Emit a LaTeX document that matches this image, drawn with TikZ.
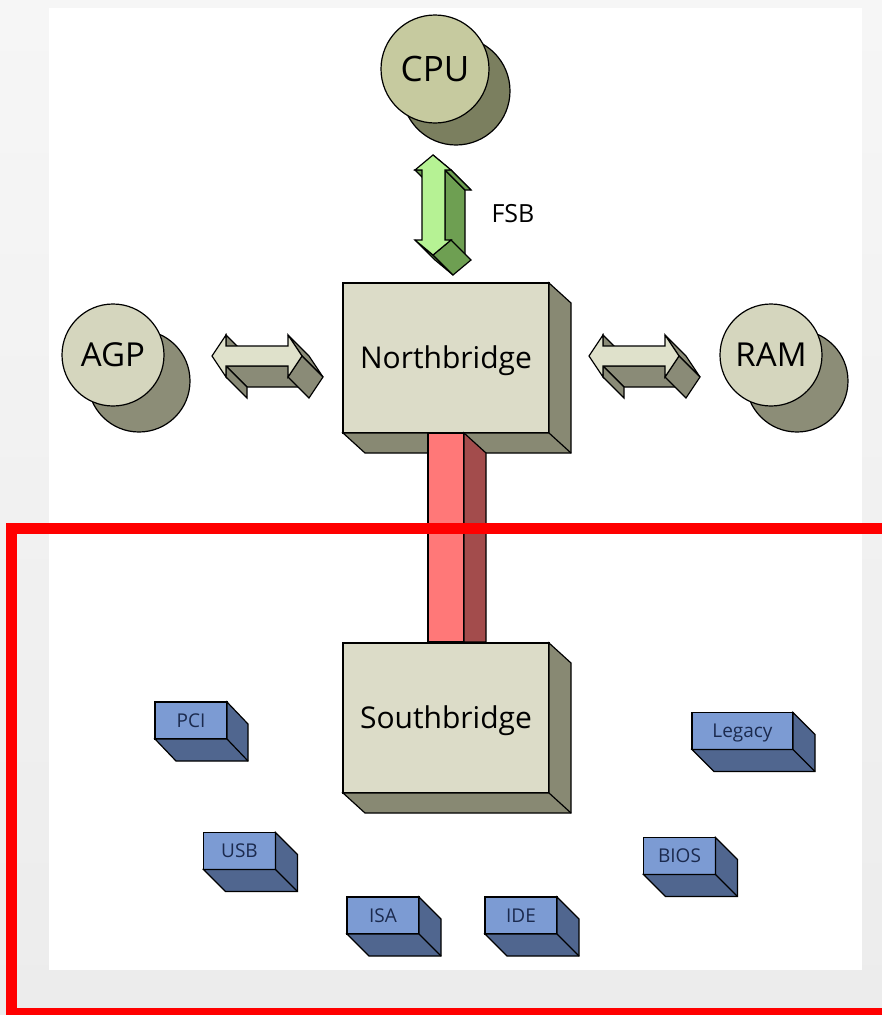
\documentclass[tikz,border=0pt]{standalone}
\usepackage{fontspec}
\setmainfont{Open Sans}
\usetikzlibrary{calc}
\definecolor{bgtop}{HTML}{F6F6F6}
\definecolor{bgbot}{HTML}{ECECEC}
\definecolor{cpuf}{HTML}{C6CA9F}
\definecolor{cpub}{HTML}{7B7F5F}
\definecolor{circf}{HTML}{D5D6BE}
\definecolor{circb}{HTML}{8C8D77}
\definecolor{boxf}{HTML}{DCDCC8}
\definecolor{boxs}{HTML}{888973}
\definecolor{bluef}{HTML}{7C9BD3}
\definecolor{blues}{HTML}{50668F}
\definecolor{bluet}{HTML}{1B2A4E}
\definecolor{busf}{HTML}{FF7878}
\definecolor{buss}{HTML}{A34C4C}
\definecolor{fsbf}{HTML}{B6F294}
\definecolor{fsbs}{HTML}{6E9F52}
\definecolor{hf}{HTML}{DFE1CB}
\definecolor{hs}{HTML}{8A8B77}
\tikzset{
  edge/.style={draw=black, line width=1.2pt},
  bigbox/.style={edge, fill=boxf, rectangle, minimum width=206pt, minimum height=150pt,
    inner sep=0pt, outer sep=0pt, font=\fontsize{30}{36}\selectfont, text height=21.4pt, text depth=0pt},
  smallbox/.style={edge, fill=bluef, rectangle, minimum width=72pt, minimum height=37pt,
    inner sep=0pt, outer sep=0pt, text=bluet, font=\fontsize{19}{23}\selectfont, text height=13.6pt, text depth=0pt},
  disc/.style={edge, circle, minimum size=#1, inner sep=0pt, outer sep=0pt},
  bustyle/.style={edge, fill=busf, rectangle, minimum width=36pt, minimum height=209pt, inner sep=0pt, outer sep=0pt},
}
\newcommand{\boxsides}[3]{%
  \filldraw[edge, fill=#2] (#1.north east) -- ([shift={#3}]#1.north east) -- ([shift={#3}]#1.south east)
    -- ([shift={#3}]#1.south west) -- (#1.south west) -- (#1.south east) -- cycle;
  \draw[edge] (#1.south east) -- ([shift={#3}]#1.south east);}
\newcommand{\sface}[4]{%
  \filldraw[edge, fill=#1] (#2) -- (#3) -- ([shift={#4}]#3) -- ([shift={#4}]#2) -- cycle;}
\newcommand{\hzarrow}[3]{%
  \begin{scope}[shift={(#2,#3)}]
    \coordinate (#1L) at (-45,0);
    \coordinate (#1a1) at (-31,-21);
    \coordinate (#1a2) at (-31,-10);
    \coordinate (#1a3) at (31,-10);
    \coordinate (#1a4) at (31,-21);
    \coordinate (#1R) at (45,0);
    \coordinate (#1a5) at (31,21);
    \coordinate (#1a6) at (31,10);
    \coordinate (#1a7) at (-31,10);
    \coordinate (#1a8) at (-31,21);
  \end{scope}
  \sface{hs}{#1a1}{#1a2}{(21,21)}
  \sface{hs}{#1a4}{#1R}{(21,21)}
  \sface{hs}{#1a6}{#1a7}{(21,21)}
  \sface{hs}{#1a7}{#1a8}{(21,21)}
  \sface{hs}{#1R}{#1a5}{(21,21)}
  \filldraw[edge, fill=hf] (#1L) -- (#1a1) -- (#1a2) -- (#1a3) -- (#1a4) -- (#1R)
    -- (#1a5) -- (#1a6) -- (#1a7) -- (#1a8) -- cycle;}
\begin{document}
\begin{tikzpicture}[x=1pt, y=-1pt]
\useasboundingbox (0,0) rectangle (882,1015);
\clip (0,0) rectangle (882,1015);
\shade[top color=bgtop, bottom color=bgbot] (0,0) rectangle (882,1015);
\fill[white] (49,8) rectangle (862,970);

% CPU
\node[disc=108pt, fill=cpub] (cpuback) at (456,91) {};
\node[disc=108pt, fill=cpuf, font=\fontsize{35}{42}\selectfont, text height=25pt, text depth=0pt] (cpu) at (435,69) {CPU};
% AGP
\node[disc=102pt, fill=circb] (agpback) at (139,381) {};
\node[disc=102pt, fill=circf, font=\fontsize{33}{40}\selectfont, text height=23.5pt, text depth=0pt] (agp) at (113,355) {AGP};
% RAM
\node[disc=102pt, fill=circb] (ramback) at (797,381) {};
\node[disc=102pt, fill=circf, font=\fontsize{33}{40}\selectfont, text height=23.5pt, text depth=0pt] (ram) at (771,355) {RAM};

% FSB arrow
\coordinate (fT) at (433,155);
\coordinate (fb1) at (451,170);
\coordinate (fb2) at (445,170);
\coordinate (fb3) at (445,240);
\coordinate (fb4) at (451,240);
\coordinate (fB) at (433,255);
\coordinate (fb5) at (415,240);
\coordinate (fb6) at (422,240);
\coordinate (fb7) at (422,170);
\coordinate (fb8) at (415,170);
\sface{fsbs}{fT}{fb1}{(20,20)}
\sface{fsbs}{fb7}{fb8}{(20,20)}
\sface{fsbs}{fb2}{fb3}{(20,20)}
\sface{fsbs}{fb1}{fb2}{(20,20)}
\sface{fsbs}{fB}{fb5}{(20,20)}
\sface{fsbs}{fb4}{fB}{(20,20)}
\filldraw[edge, fill=fsbf] (fT) -- (fb1) -- (fb2) -- (fb3) -- (fb4) -- (fB) -- (fb5) -- (fb6) -- (fb7) -- (fb8) -- cycle;
\node[font=\fontsize{25}{30}\selectfont, anchor=base, inner sep=0pt] (fsb) at (513,222) {FSB};

% side arrows
\hzarrow{ag}{257}{356}
\hzarrow{ra}{634}{356}

% Northbridge
\node[bigbox] (nb) at (446,358) {Northbridge};
\boxsides{nb}{boxs}{(22,20)}

% bus
\node[bustyle] (bus) at (446,537.5) {};
\filldraw[edge, fill=buss] (bus.north east) -- ([shift={(22,20)}]bus.north east) -- ([shift={(22,0)}]bus.south east) -- (bus.south east) -- cycle;

% Southbridge
\node[bigbox] (sb) at (446,718) {Southbridge};
\boxsides{sb}{boxs}{(22,20)}

% small boxes
\node[smallbox] (pci) at (191,720.5) {PCI};
\boxsides{pci}{blues}{(21,22)}
\node[smallbox, minimum width=101pt] (legacy) at (742.5,731) {Legacy};
\boxsides{legacy}{blues}{(22,22)}
\node[smallbox] (usb) at (239.5,851) {USB};
\boxsides{usb}{blues}{(22,22)}
\node[smallbox] (isa) at (383,915.5) {ISA};
\boxsides{isa}{blues}{(22,22)}
\node[smallbox] (ide) at (521,915.5) {IDE};
\boxsides{ide}{blues}{(22,22)}
\node[smallbox] (bios) at (679.5,856) {BIOS};
\boxsides{bios}{blues}{(22,22)}

% red frame
\draw[red, line width=11pt] (11.5,528.5) rectangle (900,1013.5);
\end{tikzpicture}
\end{document}
